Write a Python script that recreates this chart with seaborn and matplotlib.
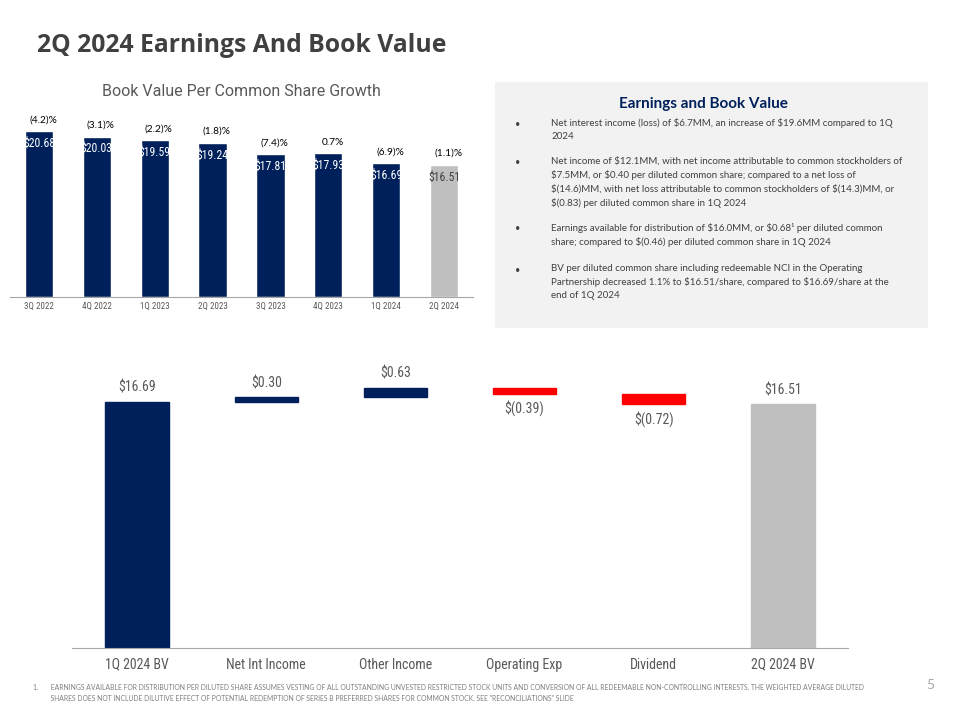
import numpy as np
import pandas as pd
import seaborn as sns
import matplotlib.pyplot as plt

# data - book value per share history
quarters = ["3Q 2022", "4Q 2022", "1Q 2023", "2Q 2023", "3Q 2023", "4Q 2023", "1Q 2024", "2Q 2024"]
bv_per_share = [20.68, 20.03, 19.59, 19.24, 17.81, 17.93, 16.69, 16.51]
bv_growth = ["(4.2)%", "(3.1)%", "(2.2)%", "(1.8)%", "(7.4)%", "0.7%", "(6.9)%", "(1.1)%"]

# data - waterfall 1Q -> 2Q
wf_labels = ["1Q 2024 BV", "Net Int Income", "Other Income", "Operating Exp", "Dividend", "2Q 2024 BV"]
wf_values = [16.69, 0.30, 0.63, -0.39, -0.72, 16.51]
wf_is_total = [True, False, False, False, False, True]

bullets = [
    "Net interest income (loss) of $6.7MM, an increase of $19.6MM compared to 1Q\n2024",
    "Net income of $12.1MM, with net income attributable to common stockholders of\n"
    "$7.5MM, or $0.40 per diluted common share; compared to a net loss of\n"
    "$(14.6)MM, with net loss attributable to common stockholders of $(14.3)MM, or\n"
    "$(0.83) per diluted common share in 1Q 2024",
    "Earnings available for distribution of $16.0MM, or $0.68¹ per diluted common\n"
    "share; compared to $(0.46) per diluted common share in 1Q 2024",
    "BV per diluted common share including redeemable NCI in the Operating\n"
    "Partnership decreased 1.1% to $16.51/share, compared to $16.69/share at the\n"
    "end of 1Q 2024",
]
footnote = ("1.       EARNINGS AVAILABLE FOR DISTRIBUTION PER DILUTED SHARE ASSUMES VESTING OF ALL OUTSTANDING UNVESTED "
            "RESTRICTED STOCK UNITS AND CONVERSION OF ALL REDEEMABLE NON-CONTROLLING INTERESTS. THE WEIGHTED AVERAGE DILUTED\n"
            "          SHARES DOES NOT INCLUDE DILUTIVE EFFECT OF POTENTIAL REDEMPTION OF SERIES B PREFERRED SHARES FOR "
            "COMMON STOCK. SEE \"RECONCILIATIONS\" SLIDE")

NAVY = "#00205B"
RED = "#FF0000"
GREY_BAR = "#BFBFBF"
TXT = "#404040"
NARROW = ["Liberation Sans Narrow", "Roboto Condensed", "Roboto", "DejaVu Sans"]

sns.set_style("white")
plt.rcParams["font.family"] = ["Lato", "DejaVu Sans"]
plt.rcParams["text.parse_math"] = False  # lots of $ signs in the text

fig = plt.figure(figsize=(9.6, 7.2), dpi=100)
W, H = 960, 720


def px_axes(x0, y0, x1, y1):
    # pixel box (top-left origin) -> figure axes
    return fig.add_axes([x0 / W, 1 - y1 / H, (x1 - x0) / W, (y1 - y0) / H])


# page title
fig.text(37 / W, 1 - 45 / H, "2Q 2024 Earnings And Book Value", fontsize=17.8, fontweight="bold",
         color=TXT, ha="left", va="center", family=["Open Sans", "DejaVu Sans"])

# ---- top left: book value history ----
ax1 = px_axes(10, 110, 473, 296.7)
df1 = pd.DataFrame({"quarter": quarters, "bv": bv_per_share})
bar_cols = [NAVY] * (len(quarters) - 1) + [GREY_BAR]
sns.barplot(data=df1, x="quarter", y="bv", hue="quarter", palette=bar_cols, legend=False,
            width=0.49, saturation=1, ax=ax1)
ax1.set_ylim(0, max(bv_per_share) * 1.13)
ax1.set_xlim(-0.5, len(quarters) - 0.5)
ax1.set_xlabel("")
ax1.set_ylabel("")
ax1.set_yticks([])
sns.despine(ax=ax1, left=True)
ax1.spines["bottom"].set_color("#A6A6A6")
ax1.tick_params(axis="x", length=0, pad=4, labelsize=6.5, labelcolor="#595959")
for lab in ax1.get_xticklabels():
    lab.set_family(NARROW)
for i, (v, g) in enumerate(zip(bv_per_share, bv_growth)):
    c = "white" if i < len(quarters) - 1 else TXT
    ax1.annotate(f"${v:.2f}", (i, v), xytext=(0, -4), textcoords="offset points",
                 ha="center", va="top", fontsize=8.5, color=c, family=NARROW)
    ax1.annotate(g, (i, v), xytext=(3, 5), textcoords="offset points",
                 ha="center", va="bottom", fontsize=7.3, color="black")
fig.text(241 / W, 1 - 92 / H, "Book Value Per Common Share Growth", fontsize=11.5,
         color="#595959", ha="center", va="center", family=["Roboto", "DejaVu Sans"])

# ---- top right: text box ----
ax_box = px_axes(495, 82, 928, 328)
ax_box.set_facecolor("#F2F2F2")
ax_box.set_xticks([])
ax_box.set_yticks([])
for s in ax_box.spines.values():
    s.set_visible(False)
fig.text(703 / W, 1 - 104 / H, "Earnings and Book Value", fontsize=11, fontweight="bold",
         color=NAVY, ha="center", va="center")
y_starts = [124, 162, 229, 270]
for y, b in zip(y_starts, bullets):
    fig.text(518 / W, 1 - y / H, "•", fontsize=6.5, color=TXT, ha="center", va="center")
    fig.text(551 / W, 1 - (y - 6) / H, b, fontsize=7, color=TXT, ha="left", va="top",
             linespacing=1.55)

# ---- bottom: waterfall ----
bottoms, heights = [], []
running = 0.0
for v, tot in zip(wf_values, wf_is_total):
    if tot:
        bottoms.append(0.0)
        heights.append(v)
        running = v
    else:
        bottoms.append(min(running, running + v))
        heights.append(abs(v))
        running += v
cols = [NAVY if (v >= 0) else RED for v in wf_values]
cols[-1] = GREY_BAR

ax2 = px_axes(72.4, 360, 847.6, 648)
df2 = pd.DataFrame({"item": wf_labels, "h": heights})
sns.barplot(data=df2, x="item", y="h", color=NAVY, width=0.49, saturation=1,
            bottom=bottoms, ax=ax2)
for p, c in zip(ax2.patches, cols):
    p.set_facecolor(c)
    p.set_edgecolor(c)
ax2.set_ylim(0, 19.5)
ax2.set_xlim(-0.5, len(wf_labels) - 0.5)
ax2.set_xlabel("")
ax2.set_ylabel("")
ax2.set_yticks([])
sns.despine(ax=ax2, left=True)
ax2.spines["bottom"].set_color("#A6A6A6")
ax2.tick_params(axis="x", length=0, pad=7, labelsize=10, labelcolor="#595959")
for lab in ax2.get_xticklabels():
    lab.set_family(NARROW)
for i, (v, b, h) in enumerate(zip(wf_values, bottoms, heights)):
    if v >= 0:
        ax2.annotate(f"${v:.2f}", (i, b + h), xytext=(0, 5), textcoords="offset points",
                     ha="center", va="bottom", fontsize=10, color="#595959", family=NARROW)
    else:
        ax2.annotate(f"$({abs(v):.2f})", (i, b), xytext=(0, -5), textcoords="offset points",
                     ha="center", va="top", fontsize=10, color="#595959", family=NARROW)

# footnote + page number
fig.text(33 / W, 1 - 684 / H, footnote, fontsize=4.9, color="#7F7F7F", ha="left", va="top",
         linespacing=1.7)
fig.text(930 / W, 1 - 685 / H, "5", fontsize=10, color="#A6A6A6", ha="center", va="center")

fig.savefig("out.png", dpi=100)
